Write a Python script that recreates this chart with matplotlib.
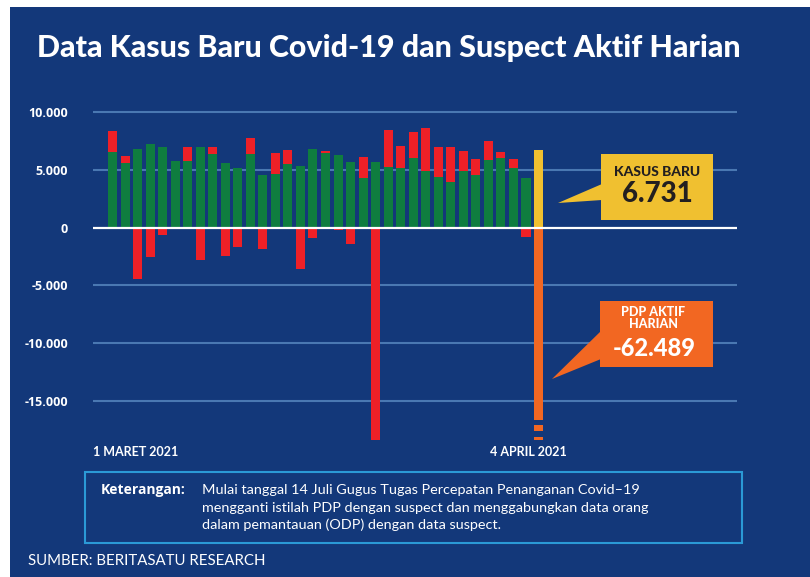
import numpy as np
import matplotlib.pyplot as plt
from matplotlib.patches import Rectangle, Polygon
from matplotlib.transforms import blended_transform_factory

# daily data, 1 March - 4 April 2021
days = list(range(1, 36))
kasus_baru = [6570, 5590, 6770, 7230, 6950, 5740, 5740, 6950, 6400, 5560,
              5130, 6400, 4530, 4670, 5530, 5360, 6770, 6430, 6250, 5650,
              4320, 5650, 5220, 5160, 6020, 4900, 4380, 3980, 4900, 4550,
              5880, 6050, 5190, 4290, 6731]
suspect_aktif = [1790, 610, -4440, -2540, -630, 0, 1240, -2800, 580, -2420,
                 -1670, 1360, -1840, 1760, 1180, -3570, -880, 170, -170, -1380,
                 1790, -18400, 3260, 1870, 2220, 3690, 2570, 2970, 1700, 1350,
                 1590, 460, 720, -780, -62489]
y_ticks = [10000, 5000, 0, -5000, -10000, -15000]
y_labels = ['10.000', '5.000', '0', '-5.000', '-10.000', '-15.000']
first_label = '1 MARET 2021'
last_label = '4 APRIL 2021'
note_title = 'Keterangan:'
note_lines = ['Mulai tanggal 14 Juli Gugus Tugas Percepatan Penanganan Covid\u201319',
              'mengganti istilah PDP dengan suspect dan menggabungkan data orang',
              'dalam pemantauan (ODP) dengan data suspect.']

BG = '#13387a'
GRID = '#4a78b2'
GREEN = '#0f7d3f'
RED = '#ee2027'
YELLOW = '#f0c030'
ORANGE = '#f26722'
FONT = 'Lato'
WIDE = 'Open Sans'

W, H = 810, 577
fig = plt.figure(figsize=(W / 100, H / 100), dpi=100)
fig.patch.set_facecolor('white')


def fx(x):
    return x / W


def fy(y):
    return 1 - y / H


# dark panel
fig.add_artist(Rectangle((fx(10), 0), 1 - fx(10), fy(7), transform=fig.transFigure,
                         facecolor=BG, edgecolor='none', zorder=0))

fig.text(fx(37), fy(57), 'Data Kasus Baru Covid-19 dan Suspect Aktif Harian',
         color='white', fontsize=21.9, fontweight='black', family=FONT, va='baseline')

ax = fig.add_axes([fx(93), fy(440), fx(737) - fx(93), fy(100) - fy(440)])
ax.set_facecolor('none')
x = np.arange(len(days))
kb = np.array(kasus_baru)
sa = np.array(suspect_aktif)

green_cols = [GREEN] * (len(x) - 1) + [YELLOW]
red_cols = [RED] * (len(x) - 1) + [ORANGE]
ax.bar(x, kb, width=0.72, color=green_cols, zorder=3)
ax.bar(x, sa, width=0.72, bottom=np.where(sa > 0, kb, 0), color=red_cols, zorder=3)

# break marks on the truncated last bar
tr = blended_transform_factory(ax.transData, ax.transAxes)
for y0, y1 in [(0.044, 0.0597), (0.0097, 0.0265)]:
    ax.add_patch(Rectangle((x[-1] - 0.4, y0), 0.8, y1 - y0, transform=tr,
                           facecolor=BG, edgecolor='none', zorder=4))

for t in y_ticks:
    if t != 0:
        ax.axhline(t, color=GRID, lw=1.5, zorder=1)
ax.axhline(0, color='white', lw=1.6, zorder=5)

ax.set_xlim(-1.556, 49.84)
ax.set_ylim(-18400, 11050)
ax.set_yticks(y_ticks)
ax.set_yticklabels(y_labels)
ax.set_xticks([])
ax.tick_params(axis='y', length=0, pad=18, labelcolor='white', labelsize=9)
for lab in ax.get_yticklabels():
    lab.set_fontweight('bold')
    lab.set_family(WIDE)
for s in ax.spines.values():
    s.set_visible(False)

fig.text(fx(93), fy(452), first_label, color='white', fontsize=9,
         fontweight='bold', family=FONT, va='center')
fig.text(fx(528), fy(452), last_label, color='white', fontsize=9,
         fontweight='bold', family=FONT, va='center', ha='center')

# callouts
fig.add_artist(Polygon([(fx(558), fy(203)), (fx(602), fy(184)), (fx(602), fy(200))],
                       transform=fig.transFigure, facecolor=YELLOW, edgecolor='none'))
fig.add_artist(Rectangle((fx(601), fy(220)), fx(713) - fx(601), fy(154) - fy(220),
                         transform=fig.transFigure, facecolor=YELLOW, edgecolor='none'))
fig.text(fx(657), fy(172), 'KASUS BARU', color='#231f20', fontsize=10,
         fontweight='black', family=FONT, ha='center', va='center')
fig.text(fx(657), fy(194), f'{kasus_baru[-1]:,}'.replace(',', '.'), color='#231f20',
         fontsize=20, fontweight='black', family=FONT, ha='center', va='center')

fig.add_artist(Polygon([(fx(552), fy(379)), (fx(601), fy(331)), (fx(601), fy(359))],
                       transform=fig.transFigure, facecolor=ORANGE, edgecolor='none'))
fig.add_artist(Rectangle((fx(600), fy(367)), fx(713) - fx(600), fy(301) - fy(367),
                         transform=fig.transFigure, facecolor=ORANGE, edgecolor='none'))
fig.text(fx(653), fy(312), 'PDP AKTIF', color='white', fontsize=9,
         fontweight='black', family=FONT, ha='center', va='center')
fig.text(fx(653), fy(324.5), 'HARIAN', color='white', fontsize=9,
         fontweight='black', family=FONT, ha='center', va='center')
fig.text(fx(654), fy(348), f'{suspect_aktif[-1]:,}'.replace(',', '.'), color='white',
         fontsize=17, fontweight='black', family=FONT, ha='center', va='center')

# note box
fig.add_artist(Rectangle((fx(85), fy(543)), fx(742) - fx(85), fy(472) - fy(543),
                         transform=fig.transFigure, facecolor='none',
                         edgecolor='#2b9ad6', lw=1.5))
fig.text(fx(101), fy(490), note_title, color='white', fontsize=10,
         fontweight='bold', family=WIDE, va='center')
for i, line in enumerate(note_lines):
    fig.text(fx(202), fy(490 + 17.5 * i), line, color='white', fontsize=10.4,
             family=FONT, va='center')

fig.text(fx(28), fy(561), 'SUMBER: BERITASATU RESEARCH', color='white', fontsize=10.8,
         family=FONT, va='center')

fig.savefig('out.png', dpi=100, facecolor=fig.get_facecolor())
